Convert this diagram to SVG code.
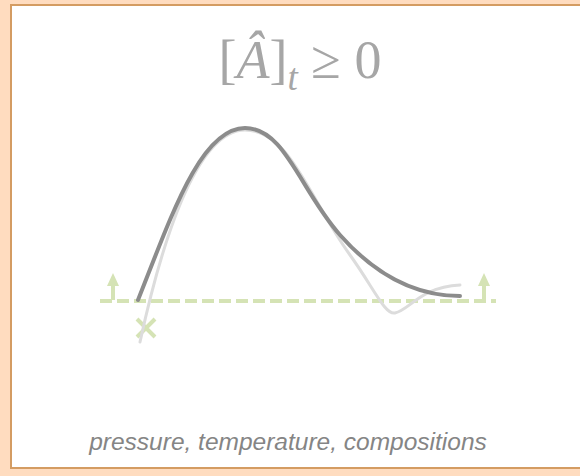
<svg xmlns="http://www.w3.org/2000/svg" width="580" height="476" viewBox="0 0 580 476">
<style>
.curve{fill:none;stroke-linecap:round}
.green{stroke:#d5e3b5;stroke-width:4;fill:none}
.title{font-family:"Liberation Serif",serif;fill:#a6a6a6;font-size:54px}
.cap{font-family:"Liberation Sans",Arial,sans-serif;font-style:italic;fill:#858585;font-size:24.5px}
</style>
<rect x="0" y="0" width="580" height="476" fill="#ffdcbf"/>
<rect x="11" y="5" width="580" height="463" fill="#fff" stroke="#d49c62" stroke-width="2"/>
<g id="title">
<text class="title" x="300" y="78" text-anchor="middle">[<tspan font-style="italic">Â</tspan>]<tspan font-style="italic" font-size="37" dy="12">t</tspan><tspan dy="-12"> ≥ 0</tspan></text>
</g>
<g id="connectors">
<line class="green" x1="100" y1="301" x2="496" y2="301" stroke-dasharray="12,5"/>
<line class="green" x1="113" y1="300" x2="113" y2="285"/>
<polygon points="113,273 107,286 119,286" fill="#d5e3b5"/>
<line class="green" x1="484" y1="300" x2="484" y2="285"/>
<polygon points="484,273 478,286 490,286" fill="#d5e3b5"/>
<path class="green" d="M137,319 L155,337 M155,319 L137,337" stroke-width="5"/>
</g>
<g id="curves">
<path class="curve" stroke="#dcdcdc" stroke-width="3" d="M140,342 C160,250 195,130 245,130 C290,130 310,200 350,255 C375,290 385,315 395,313 C410,310 420,287 460,285"/>
<path class="curve" stroke="#8c8c8c" stroke-width="4" d="M138,300 C170,220 200,128 245,128 C285,128 300,190 340,235 C380,280 420,296 460,296"/>
</g>
<g id="caption">
<text class="cap" x="288" y="450" text-anchor="middle">pressure, temperature, compositions</text>
</g>
</svg>
